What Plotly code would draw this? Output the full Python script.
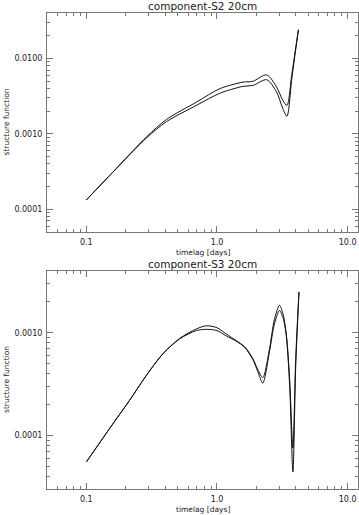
import numpy as np
import plotly.graph_objects as go

# top panel: component-S2 20cm
s2_lag = [0.10, 0.16, 0.29, 0.41, 0.70, 1.05, 1.58, 1.88, 2.40, 2.86, 3.19, 3.43, 3.73, 3.97, 4.20]
s2_upper = [1.33e-4, 3.12e-4, 9.2e-4, 1.55e-3, 2.65e-3, 3.97e-3, 4.85e-3, 4.97e-3, 6.05e-3,
            4.17e-3, 2.78e-3, 2.38e-3, 6.0e-3, 1.25e-2, 2.4e-2]
s2_lower = [1.33e-4, 3.12e-4, 8.9e-4, 1.45e-3, 2.40e-3, 3.45e-3, 4.26e-3, 4.38e-3, 5.22e-3,
            3.58e-3, 2.16e-3, 1.71e-3, 5.2e-3, 1.18e-2, 2.4e-2]

# bottom panel: component-S3 20cm
s3_lag = [0.10, 0.16, 0.214, 0.288, 0.386, 0.517, 0.695, 0.83, 1.0, 1.18, 1.4, 1.63, 1.88,
          2.05, 2.24, 2.52, 2.75, 3.01, 3.2, 3.39, 3.6, 3.81, 4.0, 4.24]
s3_upper = [5.5e-5, 1.3e-4, 2.19e-4, 3.84e-4, 6.25e-4, 8.8e-4, 1.09e-3, 1.17e-3, 1.12e-3,
            9.7e-4, 8.4e-4, 7.3e-4, 5.6e-4, 4.4e-4, 3.65e-4, 6.9e-4, 1.35e-3, 1.85e-3,
            1.53e-3, 9.8e-4, 3.5e-4, 7.5e-5, 5.5e-4, 2.5e-3]
s3_lower = [5.5e-5, 1.3e-4, 2.19e-4, 3.84e-4, 6.25e-4, 8.7e-4, 1.05e-3, 1.08e-3, 1.05e-3,
            9.3e-4, 8.3e-4, 7.2e-4, 5.5e-4, 4.2e-4, 3.23e-4, 6.5e-4, 1.22e-3, 1.65e-3,
            1.4e-3, 9.4e-4, 3.0e-4, 4.4e-5, 4.5e-4, 2.5e-3]

x_ticks = [0.1, 1.0, 10.0]
x_ticktext = ["0.1", "1.0", "10.0"]
top_yticks = [1e-4, 1e-3, 1e-2]
top_yticktext = ["0.0001", "0.0010", "0.0100"]
bot_yticks = [1e-4, 1e-3]
bot_yticktext = ["0.0001", "0.0010"]

titles = ["component-S2 20cm", "component-S3 20cm"]
xlabel = "timelag [days]"
ylabel = "structure function"

W, H = 359, 515
FONT = "DejaVu Sans"
INK = "#222"
AXIS = "#777"


def minor_vals(lo, hi):
    vals = []
    for e in range(int(np.floor(np.log10(lo))), int(np.ceil(np.log10(hi))) + 1):
        for m in range(2, 10):
            v = m * 10.0 ** e
            if lo <= v <= hi:
                vals.append(v)
    return vals


def log_axis(lo, hi, tickvals, ticktext, domain, anchor):
    return dict(type="log", range=[np.log10(lo), np.log10(hi)], domain=domain, anchor=anchor,
                tickmode="array", tickvals=tickvals, ticktext=ticktext,
                ticks="inside", ticklen=6, tickwidth=1, tickcolor=AXIS,
                minor=dict(tickmode="array", tickvals=minor_vals(lo, hi), ticks="inside",
                           ticklen=3, tickwidth=1, tickcolor=AXIS, showgrid=False),
                showline=True, linecolor=AXIS, linewidth=1, mirror="allticks",
                showgrid=False, zeroline=False, ticklabelstandoff=2,
                tickfont=dict(family=FONT, size=8, color=INK))


fig = go.Figure()
line = dict(color="#111", width=1, shape="spline", smoothing=0.8)
for y in (s2_upper, s2_lower):
    fig.add_trace(go.Scatter(x=s2_lag, y=y, mode="lines", line=line, xaxis="x", yaxis="y"))
for y in (s3_upper, s3_lower):
    fig.add_trace(go.Scatter(x=s3_lag, y=y, mode="lines", line=line, xaxis="x2", yaxis="y2"))

xdom = [47 / W, 358 / W]
top_dom = [1 - 232 / H, 1 - 13 / H]
bot_dom = [1 - 489 / H, 1 - 271 / H]

fig.update_layout(
    width=W, height=H, margin=dict(l=0, r=0, t=0, b=0),
    paper_bgcolor="white", plot_bgcolor="white", showlegend=False,
    xaxis=log_axis(0.05, 12, x_ticks, x_ticktext, xdom, "y"),
    yaxis=log_axis(5e-5, 0.04, top_yticks, top_yticktext, top_dom, "x"),
    xaxis2=log_axis(0.05, 12, x_ticks, x_ticktext, xdom, "y2"),
    yaxis2=log_axis(3e-5, 0.004, bot_yticks, bot_yticktext, bot_dom, "x2"),
)

xc = (xdom[0] + xdom[1]) / 2
notes = [
    (titles[0], xc, 1 - 6 / H, 10.5, 0),
    (xlabel, xc, 1 - 252.5 / H, 7.5, 0),
    (titles[1], xc, 1 - 264 / H, 10.5, 0),
    (xlabel, xc, 1 - 509 / H, 7.5, 0),
    (ylabel, 6 / W, sum(top_dom) / 2, 7.5, -90),
    (ylabel, 6 / W, sum(bot_dom) / 2, 7.5, -90),
]
for text, x, y, size, angle in notes:
    fig.add_annotation(text=text, x=x, y=y, xref="paper", yref="paper", showarrow=False,
                       xanchor="center", yanchor="middle", textangle=angle, borderpad=0,
                       font=dict(family=FONT, size=size, color=INK))

# the page's default body margin shifts the figure by 8px
fig.write_html("out.html", config={"displayModeBar": False},
               post_script="document.body.style.margin='0';")
